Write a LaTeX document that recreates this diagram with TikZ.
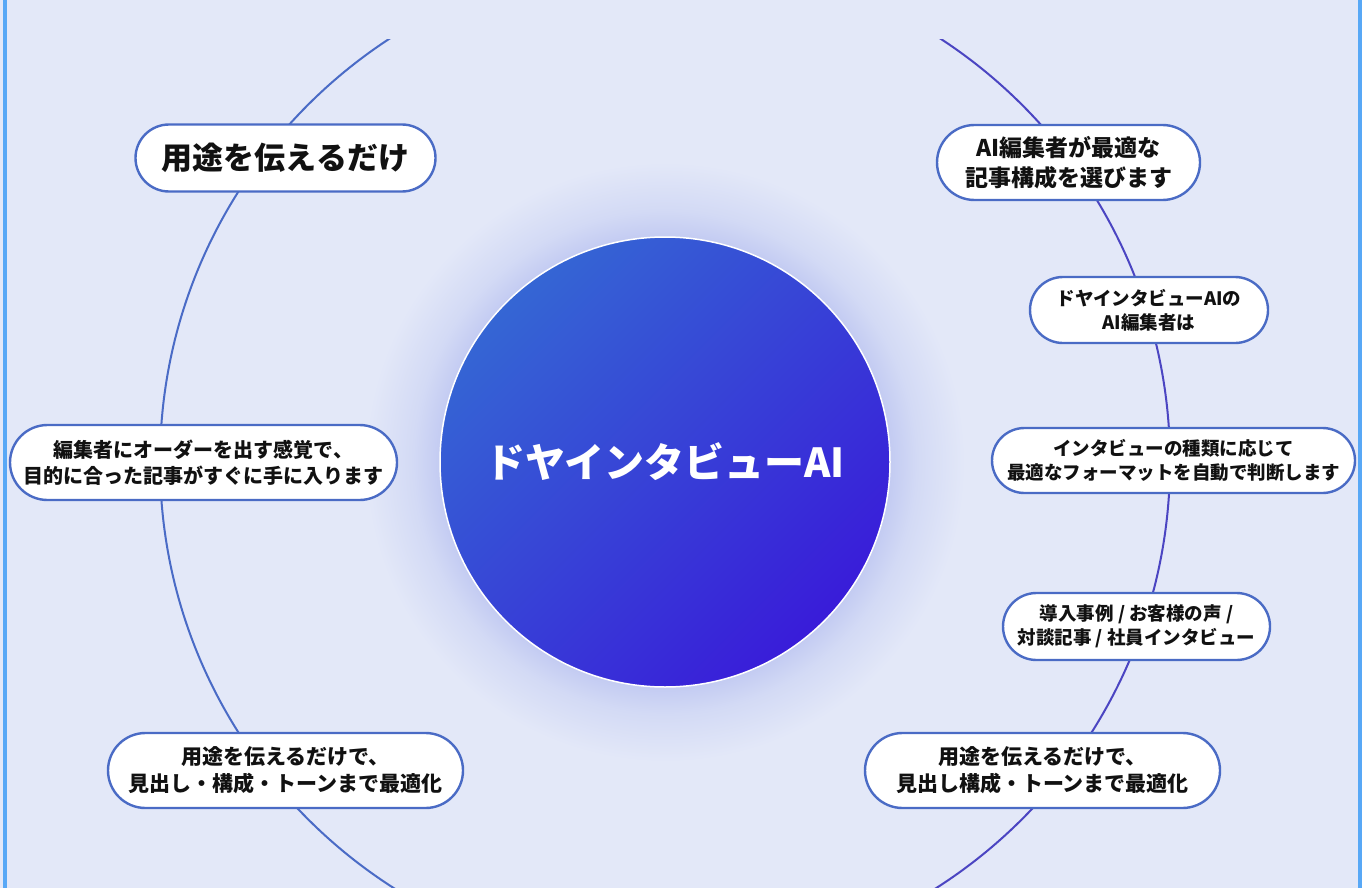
\documentclass[tikz,border=0pt]{standalone}
\usepackage{fontspec}
\setmainfont{Noto Sans CJK JP}
\usetikzlibrary{shapes.misc}
\definecolor{bgc}{HTML}{E3E8F8}
\definecolor{edgec}{HTML}{58A8F6}
\definecolor{glowc}{HTML}{C3CBF2}
\definecolor{glowm}{HTML}{D3DAF5}
\definecolor{corea}{HTML}{3566D4}
\definecolor{coreb}{HTML}{391CD9}
\definecolor{arcl}{HTML}{4A6BC6}
\definecolor{arcr}{HTML}{4B45C2}
\definecolor{pillb}{HTML}{4A6BC5}
\definecolor{ink}{HTML}{111111}
\pgfdeclareradialshading{glowshade}{\pgfpoint{0bp}{0bp}}{color(0bp)=(glowc); color(18.75bp)=(glowc); color(21bp)=(glowm); color(25bp)=(bgc); color(50bp)=(bgc)}
\begin{document}
\begin{tikzpicture}[x=1pt,y=-1pt,
  pill/.style={rounded rectangle, draw=pillb, line width=2.4pt, fill=white,
    align=center, inner sep=0pt, text=ink, font=\bfseries\fontsize{20}{26}\selectfont},
  pillsm/.style={pill, font=\bfseries\fontsize{18.5}{24}\selectfont},
  ring/.style={line width=2pt}]
\useasboundingbox (0,0) rectangle (1362,888);
\fill[bgc] (0,0) rectangle (1362,888);
\shade[shading=glowshade] (665,462) circle (300pt);
\node[circle, minimum size=450pt, inner sep=0pt, draw=white, line width=1.5pt,
  top color=corea, bottom color=coreb, shading angle=45, text=white,
  font=\bfseries\fontsize{40}{48}\selectfont] (core) at (665,462) {ドヤインタビューAI};
\begin{scope}
  \clip (0,40) rectangle (1362,888);
  \draw[ring, arcl] (core.center) ++(90:505pt) arc[start angle=90, end angle=270, radius=505pt];
  \draw[ring, arcr] (core.center) ++(-90:505pt) arc[start angle=-90, end angle=90, radius=505pt];
\end{scope}
\fill[edgec] (3,0) rectangle (7,888);
\fill[edgec] (1358,0) rectangle (1362,888);
\node[pill, minimum width=300pt, minimum height=67pt, font=\bfseries\fontsize{31}{36}\selectfont] (n1) at (285.5,158) {用途を伝えるだけ};
\node[pill, minimum width=263pt, minimum height=75pt, font=\bfseries\fontsize{23}{30}\selectfont] (n2) at (1068.5,162.5) {AI編集者が最適な\\記事構成を選びます};
\node[pillsm, minimum width=238pt, minimum height=66pt] (n3) at (1149,310) {ドヤインタビューAIの\\AI編集者は};
\node[pillsm, minimum width=363pt, minimum height=65pt] (n4) at (1173.5,460.5) {インタビューの種類に応じて\\最適なフォーマットを自動で判断します};
\node[pillsm, minimum width=267pt, minimum height=67pt] (n5) at (1136.5,626.5) {導入事例 / お客様の声 /\\対談記事 / 社員インタビュー};
\node[pill, minimum width=355pt, minimum height=75pt, font=\bfseries\fontsize{21}{27}\selectfont] (n6) at (1042.5,770.5) {用途を伝えるだけで、\\見出し構成・トーンまで最適化};
\node[pill, minimum width=387pt, minimum height=75pt] (n7) at (203.5,462.5) {編集者にオーダーを出す感覚で、\\目的に合った記事がすぐに手に入ります};
\node[pill, minimum width=355pt, minimum height=75pt, font=\bfseries\fontsize{21}{27}\selectfont] (n8) at (285.5,770.5) {用途を伝えるだけで、\\見出し・構成・トーンまで最適化};
\end{tikzpicture}
\end{document}
